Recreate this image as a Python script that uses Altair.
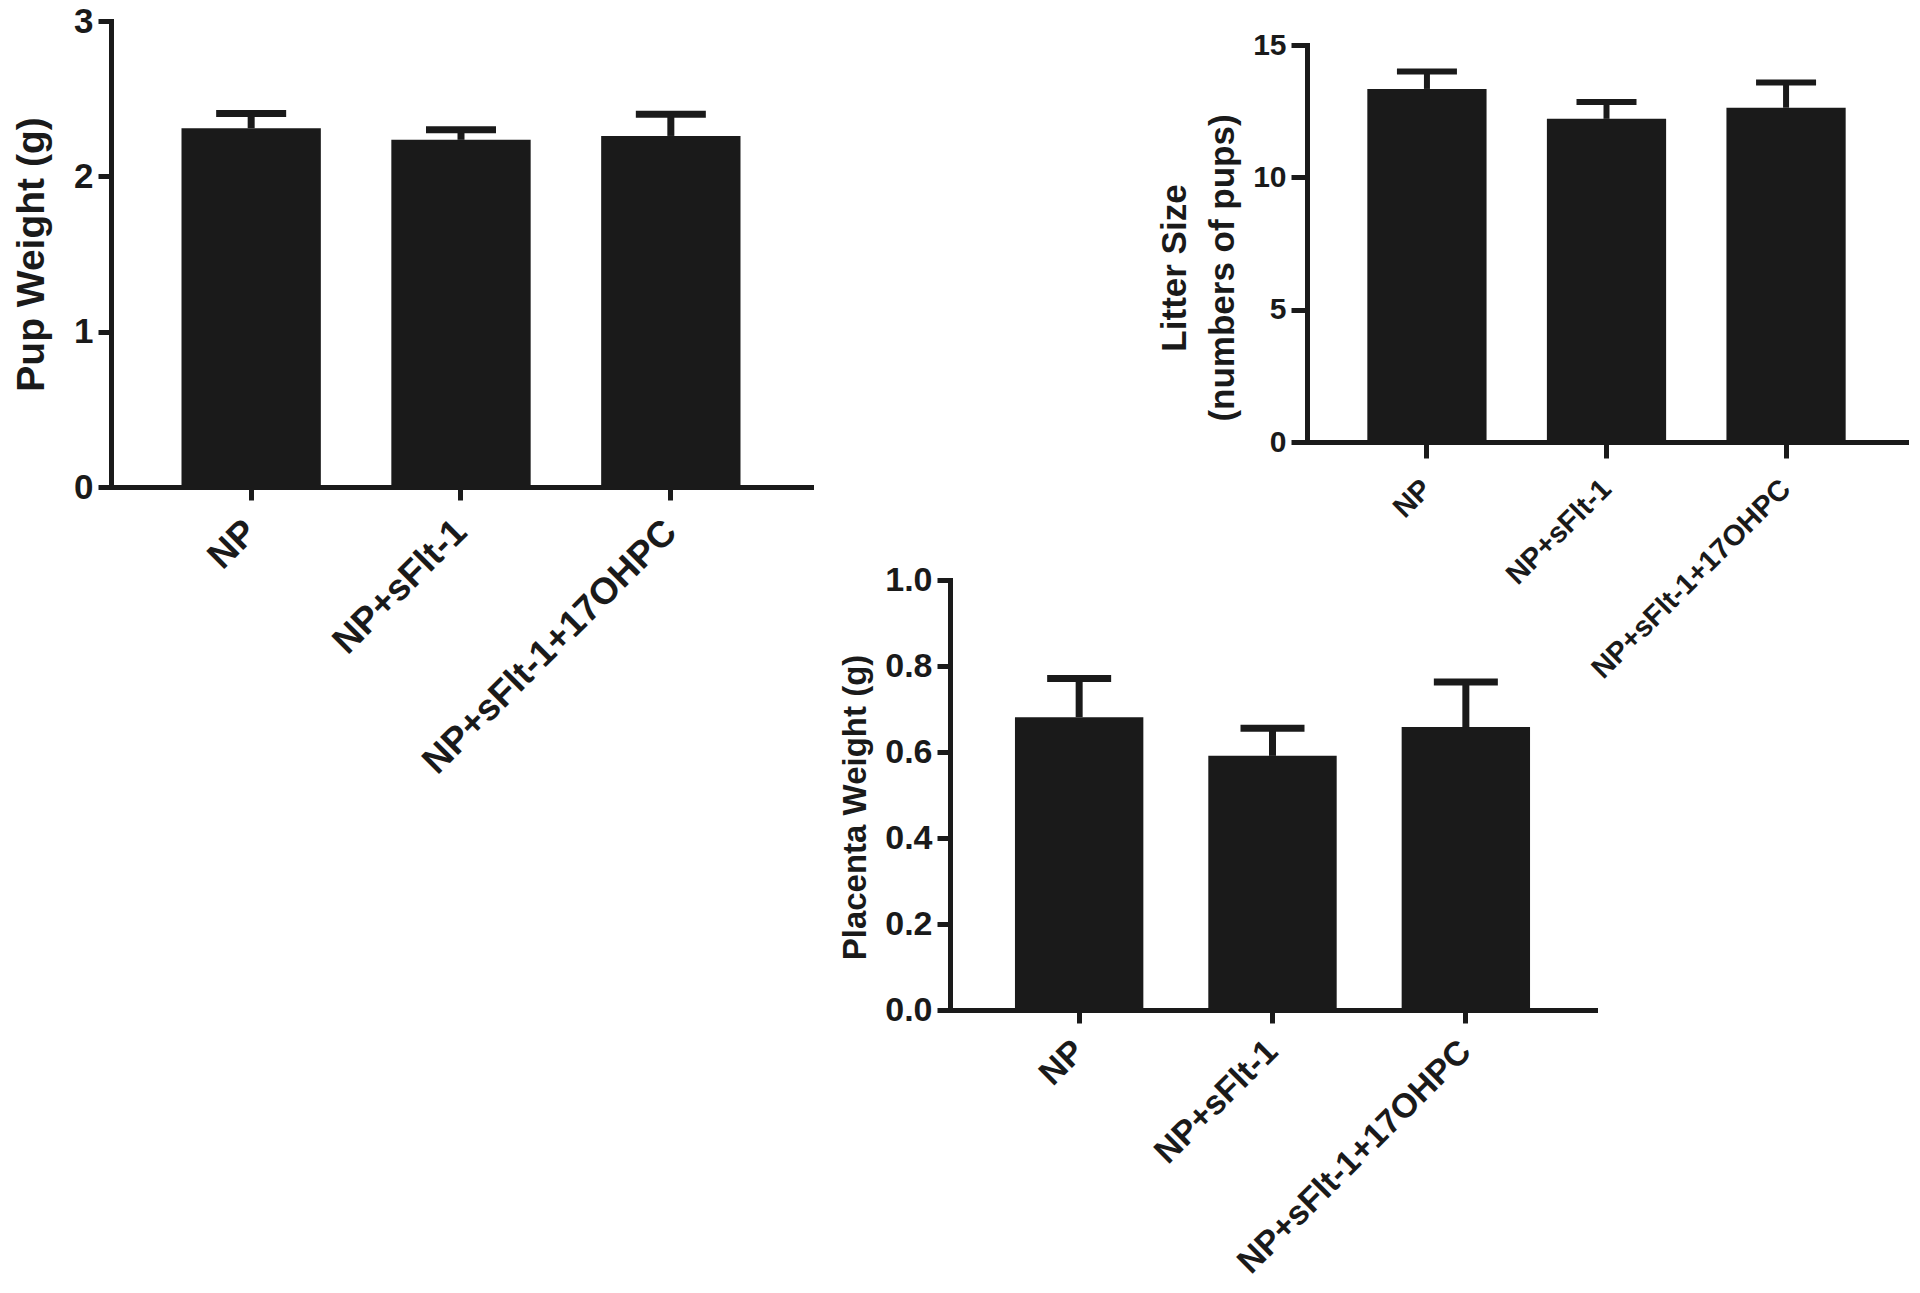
import altair as alt
import pandas as pd

# ---------------- data ----------------
groups = ["NP", "NP+sFlt-1", "NP+sFlt-1+17OHPC"]

pup_mean = [2.31, 2.235, 2.26]
pup_upper = [2.405, 2.30, 2.40]

litter_mean = [13.34, 12.21, 12.63]
litter_upper = [14.0, 12.85, 13.58]

placenta_mean = [0.681, 0.591, 0.658]
placenta_upper = [0.771, 0.655, 0.763]

pup_ticks = [0, 1, 2, 3]
litter_ticks = [0, 5, 10, 15]
placenta_ticks = [0.0, 0.2, 0.4, 0.6, 0.8, 1.0]

# ---------------- style ----------------
INK = "#1a1a1a"
FONT = "Liberation Sans"
W, H = 1904, 1277


def panel(mean, upper, title, y_domain, y_ticks, y_fmt, x_range, y_range,
          tick_font, title_font, xlab_font, title_pad, cap, err_w, tick_len,
          title_lh=40, title_shift=0, xlab_pad=26):
    df = pd.DataFrame({"group": groups, "mean": mean, "upper": upper})
    common = dict(
        domainColor=INK, domainWidth=5, domainCap="square",
        tickColor=INK, tickWidth=5, tickSize=tick_len,
        labelColor=INK, labelFont=FONT, labelFontWeight="bold",
        labelLimit=2000, grid=False,
    )
    x_axis = alt.Axis(
        orient="bottom", offset=y_range[0] - H,
        labelAngle=-45, labelAlign="right", labelBaseline="middle",
        labelPadding=xlab_pad, labelFontSize=xlab_font, **common,
    )
    y_axis = alt.Axis(
        orient="left", offset=-x_range[0], values=y_ticks, format=y_fmt,
        labelPadding=5, labelFontSize=tick_font,
        title=title, titleFont=FONT, titleFontWeight="bold",
        titleFontSize=title_font, titleColor=INK, titlePadding=title_pad,
        titleLimit=2000, titleLineHeight=title_lh,
        titleY=(y_range[0] + y_range[1]) / 2 + title_shift, **common,
    )
    xs = alt.Scale(domain=groups, range=x_range, paddingInner=0.336,
                   paddingOuter=0.336)
    ys = alt.Scale(domain=y_domain, range=y_range, nice=False, zero=True)
    X = alt.X("group:N", scale=xs, axis=x_axis, sort=groups, title=None)

    base = alt.Chart(df)
    bars = base.mark_bar(color=INK, opacity=1).encode(
        x=X, y=alt.Y("mean:Q", scale=ys, axis=y_axis))
    stem = base.mark_rule(color=INK, strokeWidth=err_w, opacity=1).encode(
        x=X, y=alt.Y("mean:Q", scale=ys, axis=y_axis), y2=alt.Y2("upper:Q"))
    caps = base.mark_tick(color=INK, size=cap, thickness=err_w,
                          opacity=1).encode(
        x=X, y=alt.Y("upper:Q", scale=ys, axis=y_axis))
    return alt.layer(bars, stem, caps)


p1 = panel(pup_mean, pup_upper, "Pup Weight (g)", [0, 3], pup_ticks, "d",
           [103, 803], [479, 13], tick_font=35, title_font=39, xlab_font=37,
           title_pad=22, cap=70, err_w=7, tick_len=13)

p2 = panel(litter_mean, litter_upper, ["Litter Size", "(numbers of pups)"],
           [0, 15], litter_ticks, "d",
           [1299, 1898], [434, 37], tick_font=30, title_font=35, xlab_font=29,
           title_pad=12, cap=60, err_w=6, tick_len=16, title_lh=48,
           title_shift=24)

p3 = panel(placenta_mean, placenta_upper, "Placenta Weight (g)", [0, 1],
           placenta_ticks, ".1f",
           [942, 1587], [1002, 572], tick_font=34, title_font=33, xlab_font=34,
           title_pad=12, cap=64, err_w=7, tick_len=13, title_shift=12,
           xlab_pad=23)

chart = (
    alt.layer(p1, p2, p3)
    .resolve_scale(x="independent", y="independent")
    .resolve_axis(x="independent", y="independent")
    .properties(width=W, height=H, padding=0,
                autosize=alt.AutoSizeParams(type="none"),
                background="white")
    .configure_view(strokeWidth=0)
)

chart.save("out.html", embed_options={"renderer": "svg", "actions": False})
